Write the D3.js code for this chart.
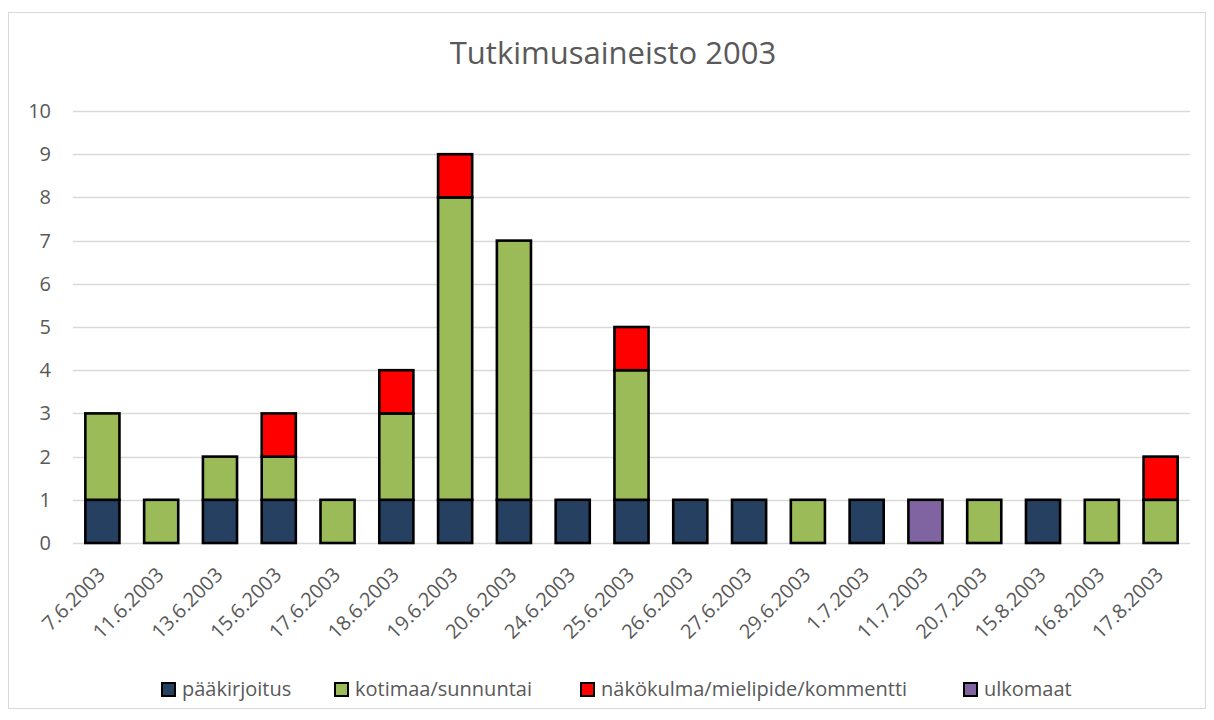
<!DOCTYPE html>
<html>
<head>
<meta charset="utf-8">
<script src="https://cdn.jsdelivr.net/npm/d3@7"></script>
<style>
  body { margin: 0; background: #fff; }
  text { font-family: "Open Sans", "Noto Sans", sans-serif; fill: #595959; }
</style>
</head>
<body>
<svg id="chart" width="1214" height="720"></svg>
<script>
var categories = ['7.6.2003', '11.6.2003', '13.6.2003', '15.6.2003', '17.6.2003', '18.6.2003',
  '19.6.2003', '20.6.2003', '24.6.2003', '25.6.2003', '26.6.2003', '27.6.2003', '29.6.2003',
  '1.7.2003', '11.7.2003', '20.7.2003', '15.8.2003', '16.8.2003', '17.8.2003'];

var paakirjoitus = [1, 0, 1, 1, 0, 1, 1, 1, 1, 1, 1, 1, 0, 1, 0, 0, 1, 0, 0];
var kotimaa      = [2, 1, 1, 1, 1, 2, 7, 6, 0, 3, 0, 0, 1, 0, 0, 1, 0, 1, 1];
var nakokulma    = [0, 0, 0, 1, 0, 1, 1, 0, 0, 1, 0, 0, 0, 0, 0, 0, 0, 0, 1];
var ulkomaat     = [0, 0, 0, 0, 0, 0, 0, 0, 0, 0, 0, 0, 0, 0, 1, 0, 0, 0, 0];

var seriesNames = ['pääkirjoitus', 'kotimaa/sunnuntai', 'näkökulma/mielipide/kommentti', 'ulkomaat'];
var seriesColors = ['#264061', '#9BBB59', '#FF0000', '#8064A2'];
var yTicks = [0, 1, 2, 3, 4, 5, 6, 7, 8, 9, 10];

var svg = d3.select('#chart');
var margin = {left: 73, right: 24, top: 111, bottom: 177};
var width = 1214 - margin.left - margin.right;
var height = 720 - margin.top - margin.bottom;

// chart border
svg.append('rect')
  .attr('x', 8.5).attr('y', 12.5)
  .attr('width', 1197).attr('height', 696)
  .attr('fill', '#fff').attr('stroke', '#d9d9d9');

svg.append('text')
  .attr('x', 613).attr('y', 64)
  .attr('text-anchor', 'middle')
  .style('font-size', '31px')
  .text('Tutkimusaineisto 2003');

var g = svg.append('g').attr('transform', 'translate(' + margin.left + ',' + margin.top + ')');

var x = d3.scaleBand().domain(categories).range([0, width]).paddingInner(0.42).paddingOuter(0.21);
var y = d3.scaleLinear().domain([0, 10]).range([height, 0]);

// gridlines
g.selectAll('.grid').data(yTicks).enter().append('line')
  .attr('class', 'grid')
  .attr('x1', 0).attr('x2', width)
  .attr('y1', function(d) { return Math.round(y(d)) + 0.5; })
  .attr('y2', function(d) { return Math.round(y(d)) + 0.5; })
  .attr('stroke', '#d9d9d9').attr('stroke-width', 1.3);

// y axis
var yAxis = g.append('g').call(d3.axisLeft(y).tickValues(yTicks).tickSize(0).tickPadding(22));
yAxis.select('.domain').remove();
yAxis.selectAll('text').style('font-size', '20px').attr('fill', '#595959');

// stacked bars
var table = categories.map(function(c, i) {
  return {cat: c, s0: paakirjoitus[i], s1: kotimaa[i], s2: nakokulma[i], s3: ulkomaat[i]};
});
var stack = d3.stack().keys(['s0', 's1', 's2', 's3'])(table);

g.selectAll('.series').data(stack).enter().append('g')
  .attr('class', 'series')
  .attr('fill', function(d, i) { return seriesColors[i]; })
  .selectAll('rect')
  .data(function(d) { return d.filter(function(p) { return p[1] > p[0]; }); })
  .enter().append('rect')
  .attr('x', function(d) { return x(d.data.cat); })
  .attr('y', function(d) { return y(d[1]); })
  .attr('width', x.bandwidth())
  .attr('height', function(d) { return y(d[0]) - y(d[1]); })
  .attr('stroke', '#000').attr('stroke-width', 2.6);

// x labels
g.selectAll('.xlab').data(categories).enter().append('text')
  .attr('class', 'xlab')
  .attr('text-anchor', 'end')
  .attr('transform', function(d) {
    return 'translate(' + (x(d) + x.bandwidth() / 2 + 4) + ',' + (height + 33) + ') rotate(-45)';
  })
  .style('font-size', '20px')
  .text(function(d) { return d; });

// legend
var legendX = [162, 335, 581, 964];
var legend = svg.selectAll('.legend').data(seriesNames).enter().append('g')
  .attr('class', 'legend')
  .attr('transform', function(d, i) { return 'translate(' + legendX[i] + ',683)'; });
legend.append('rect')
  .attr('width', 13).attr('height', 13)
  .attr('fill', function(d, i) { return seriesColors[i]; })
  .attr('stroke', '#000').attr('stroke-width', 2);
legend.append('text')
  .attr('x', 20).attr('y', 13)
  .style('font-size', '20px')
  .text(function(d) { return d; });
</script>
</body>
</html>
